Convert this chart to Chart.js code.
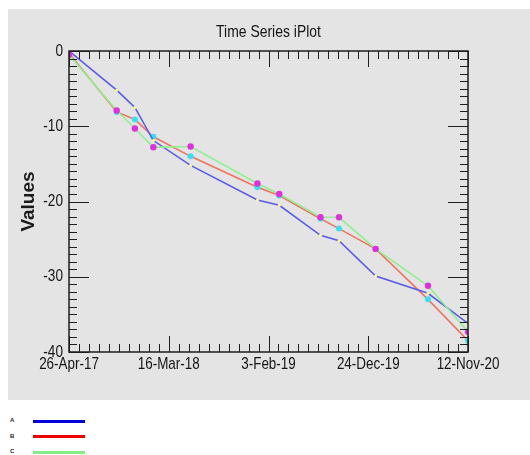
<!DOCTYPE html>
<html lang="en">
<head>
<meta charset="UTF-8">
<title>Time Series iPlot</title>
<script src="https://cdn.jsdelivr.net/npm/chart.js@4.4.3/dist/chart.umd.min.js"></script>
<style>
  html, body { margin: 0; padding: 0; background: #fff; }
  #plotBox { position: absolute; left: 8px; top: 9px; width: 522px; height: 391px; background: #e4e4e4; }
  #legend { position: absolute; left: 0; top: 0; }
  .lg-label { position: absolute; left: 10px; font: bold 6px 'Liberation Sans', sans-serif; color: #222; }
  .lg-line { position: absolute; left: 33px; width: 52px; height: 3px; }
</style>
</head>
<body>
<div id="plotBox"><canvas id="chart" width="522" height="391"></canvas></div>
<div id="legend"></div>
<script>
// sample dates and the three series
const dates = ['2017-04-26', '2017-09-28', '2017-11-26', '2018-01-25', '2018-05-26', '2018-12-29',
               '2019-03-10', '2019-07-22', '2019-09-20', '2020-01-17', '2020-07-05', '2020-11-12'];
const seriesNames = ['A', 'B', 'C'];
const seriesA = [0, -5.2, -7.5, -11.9, -15.2, -19.8, -20.5, -24.5, -25.2, -29.9, -32.2, -36.2];
const seriesB = [-0.3, -8.1, -9.1, -11.4, -14.0, -18.1, -19.2, -22.3, -23.6, -26.3, -33.0, -38.5];
const seriesC = [-0.5, -7.9, -10.3, -12.8, -12.7, -17.6, -19.0, -22.1, -22.1, -26.3, -31.2, -37.3];
const yRange = [-40, 0];
const chartTitle = 'Time Series iPlot';

const MONTHS = ['Jan', 'Feb', 'Mar', 'Apr', 'May', 'Jun', 'Jul', 'Aug', 'Sep', 'Oct', 'Nov', 'Dec'];
const t0 = Date.parse(dates[0]);
const dayOf = s => (Date.parse(s) - t0) / 86400000;
const fmtDay = v => {
  const d = new Date(t0 + v * 86400000);
  return d.getUTCDate() + '-' + MONTHS[d.getUTCMonth()] + '-' + String(d.getUTCFullYear()).slice(2);
};
const days = dates.map(dayOf);
const lastDay = days[days.length - 1];
const pts = vals => vals.map((v, i) => ({x: days[i], y: v}));

const lineColors = ['#5a5aec', '#f0735f', '#8ef08e'];
const legendColors = ['#0000dd', '#ee0000', '#86ee86'];

// condensed Helvetica look: Liberation Sans squeezed horizontally
function narrowText(ctx, text, x, y, size, align, baseline, squeeze) {
  ctx.save();
  ctx.translate(x, y);
  ctx.scale(squeeze, 1);
  ctx.font = size + "px 'Liberation Sans', sans-serif";
  ctx.textAlign = align;
  ctx.textBaseline = baseline;
  ctx.fillStyle = '#151515';
  ctx.fillText(text, 0, 0);
  ctx.restore();
}

// IDL style box: inward major and minor ticks on all four sides, plus labels
const boxTicks = {
  id: 'boxTicks',
  afterDatasetsDraw(chart) {
    const {ctx, chartArea: a, scales: {x, y}} = chart;
    const marks = (scale, major) => {
      const vals = scale.ticks.map(t => t.value);
      const out = [];
      vals.forEach((v, i) => {
        out.push([v, major]);
        if (i < vals.length - 1) {
          for (let k = 1; k < 10; k++) out.push([v + (vals[i + 1] - v) * k / 10, 8]);
        }
      });
      return out;
    };
    ctx.save();
    ctx.strokeStyle = '#1e1e1e';
    ctx.lineWidth = 1;
    ctx.beginPath();
    marks(x, 16).forEach(([v, len]) => {
      const px = Math.round(x.getPixelForValue(v)) + 0.5;
      ctx.moveTo(px, a.bottom); ctx.lineTo(px, a.bottom - len);
      ctx.moveTo(px, a.top); ctx.lineTo(px, a.top + len);
    });
    marks(y, 20).forEach(([v, len]) => {
      const py = Math.round(y.getPixelForValue(v)) + 0.5;
      ctx.moveTo(a.left, py); ctx.lineTo(a.left + len, py);
      ctx.moveTo(a.right, py); ctx.lineTo(a.right - len, py);
    });
    ctx.stroke();
    ctx.lineWidth = 1.5;
    ctx.strokeRect(a.left, a.top, a.right - a.left, a.bottom - a.top);
    ctx.restore();

    x.ticks.forEach(t => narrowText(ctx, fmtDay(t.value), x.getPixelForValue(t.value), a.bottom + 4, 17, 'center', 'top', 0.79));
    y.ticks.forEach(t => narrowText(ctx, String(t.value), a.left - 6, y.getPixelForValue(t.value), 17, 'right', 'middle', 0.8));
    narrowText(ctx, chartTitle, (a.left + a.right) / 2, 23, 17, 'center', 'middle', 0.82);
  }
};

new Chart(document.getElementById('chart'), {
  type: 'line',
  data: {
    datasets: [
      {label: seriesNames[0], data: pts(seriesA), borderColor: lineColors[0], borderWidth: 1.6,
       pointRadius: 1.5, pointBackgroundColor: '#ffff88', pointBorderWidth: 0, order: 1},
      {label: seriesNames[1], data: pts(seriesB), borderColor: lineColors[1], borderWidth: 1.6,
       pointRadius: 3, pointBackgroundColor: '#35e2f2', pointBorderWidth: 0, order: 2},
      {label: seriesNames[2], data: pts(seriesC), borderColor: lineColors[2], borderWidth: 1.6,
       pointRadius: 3.2, pointBackgroundColor: '#e22ee2', pointBorderWidth: 0, order: 0}
    ]
  },
  options: {
    responsive: false,
    animation: false,
    layout: {padding: {left: 0, right: 62, top: 42, bottom: 0}},
    plugins: {
      legend: {display: false},
      tooltip: {enabled: false},
      title: {display: false}
    },
    scales: {
      x: {
        type: 'linear',
        min: 0,
        max: lastDay,
        grid: {display: false, drawTicks: false},
        border: {display: false},
        afterFit: s => { s.height = 48; },
        ticks: {stepSize: lastDay / 4, autoSkip: false, display: false}
      },
      y: {
        min: yRange[0],
        max: yRange[1],
        grid: {display: false, drawTicks: false},
        border: {display: false},
        afterFit: s => { s.width = 61; },
        ticks: {stepSize: 10, display: false},
        title: {
          display: true,
          text: 'Values',
          color: '#1a1a1a',
          font: {family: "'Liberation Sans', sans-serif", size: 19, weight: 'bold'},
          padding: {top: 9, bottom: 0}
        }
      }
    }
  },
  plugins: [boxTicks]
});

// legend in the white strip under the plot
const legend = document.getElementById('legend');
seriesNames.forEach((name, i) => {
  const cy = 421 + i * 15.5;
  const lab = document.createElement('div');
  lab.className = 'lg-label';
  lab.style.top = (cy - 4) + 'px';
  lab.textContent = name;
  const line = document.createElement('div');
  line.className = 'lg-line';
  line.style.top = (cy - 1.5) + 'px';
  line.style.background = legendColors[i];
  legend.appendChild(lab);
  legend.appendChild(line);
});
</script>
</body>
</html>
